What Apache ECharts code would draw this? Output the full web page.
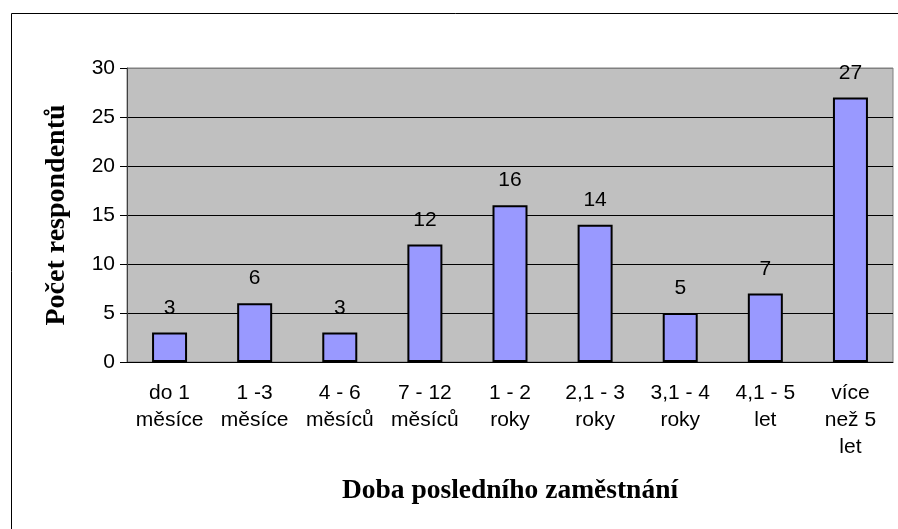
<!DOCTYPE html>
<html>
<head>
<meta charset="utf-8">
<script src="https://cdn.jsdelivr.net/npm/echarts@6/dist/echarts.min.js"></script>
<style>
    html, body { margin: 0; padding: 0; background: #fff; }
    #main { width: 898px; height: 529px; }
</style>
</head>
<body>
<div id="main"></div>
<script>
    // kategorie a hodnoty
    const categories = ['do 1\nměsíce', '1 -3\nměsíce', '4 - 6\nměsíců', '7 - 12\nměsíců', '1 - 2\nroky',
        '2,1 - 3\nroky', '3,1 - 4\nroky', '4,1 - 5\nlet', 'více\nnež 5\nlet'];
    const counts = [3, 6, 3, 12, 16, 14, 5, 7, 27];
    const yTicks = [0, 5, 10, 15, 20, 25, 30];

    const myChart = echarts.init(document.getElementById('main'), null, {renderer: 'canvas'});
    const option = {
        animation: false,
        graphic: [{
            type: 'rect',
            left: 9,
            top: 11,
            shape: {width: 1000, height: 1000},
            style: {fill: 'none', stroke: '#000', lineWidth: 1}
        }],
        grid: {
            left: 127,
            right: 5,
            top: 68,
            bottom: 167,
            show: true,
            backgroundColor: '#C0C0C0',
            borderColor: '#808080',
            borderWidth: 1
        },
        xAxis: {
            type: 'category',
            data: categories,
            name: 'Doba posledního zaměstnání',
            nameLocation: 'middle',
            nameGap: 115,
            nameTextStyle: {
                fontFamily: 'Liberation Serif',
                fontWeight: 'bold',
                fontSize: 27.5,
                color: '#000'
            },
            axisLine: {lineStyle: {color: '#000', width: 1}},
            axisTick: {length: 6, lineStyle: {color: '#000'}},
            axisLabel: {
                interval: 0,
                margin: 18,
                fontFamily: 'Liberation Sans',
                fontSize: 21,
                lineHeight: 27,
                color: '#000'
            }
        },
        yAxis: {
            type: 'value',
            min: yTicks[0],
            max: yTicks[yTicks.length - 1],
            interval: 5,
            name: 'Počet respondentů',
            nameLocation: 'middle',
            nameRotate: 90,
            nameGap: 56,
            nameTextStyle: {
                fontFamily: 'Liberation Serif',
                fontWeight: 'bold',
                fontSize: 28,
                color: '#000'
            },
            axisLine: {show: true, lineStyle: {color: '#404040'}},
            axisTick: {show: true, length: 7, lineStyle: {color: '#000'}},
            axisLabel: {
                margin: 12,
                fontFamily: 'Liberation Sans',
                fontSize: 21,
                color: '#000'
            },
            splitLine: {
                lineStyle: {
                    color: ['#000', '#000', '#000', '#000', '#000', '#000', '#808080'],
                    width: 1
                }
            }
        },
        series: [{
            name: 'Počet',
            type: 'bar',
            data: counts,
            barWidth: 35,
            itemStyle: {
                color: '#9999FF',
                borderColor: '#000',
                borderWidth: 2
            },
            label: {
                show: true,
                position: 'top',
                distance: 14,
                fontFamily: 'Liberation Sans',
                fontSize: 21,
                color: '#000'
            }
        }]
    };
    myChart.setOption(option);
</script>
</body>
</html>
